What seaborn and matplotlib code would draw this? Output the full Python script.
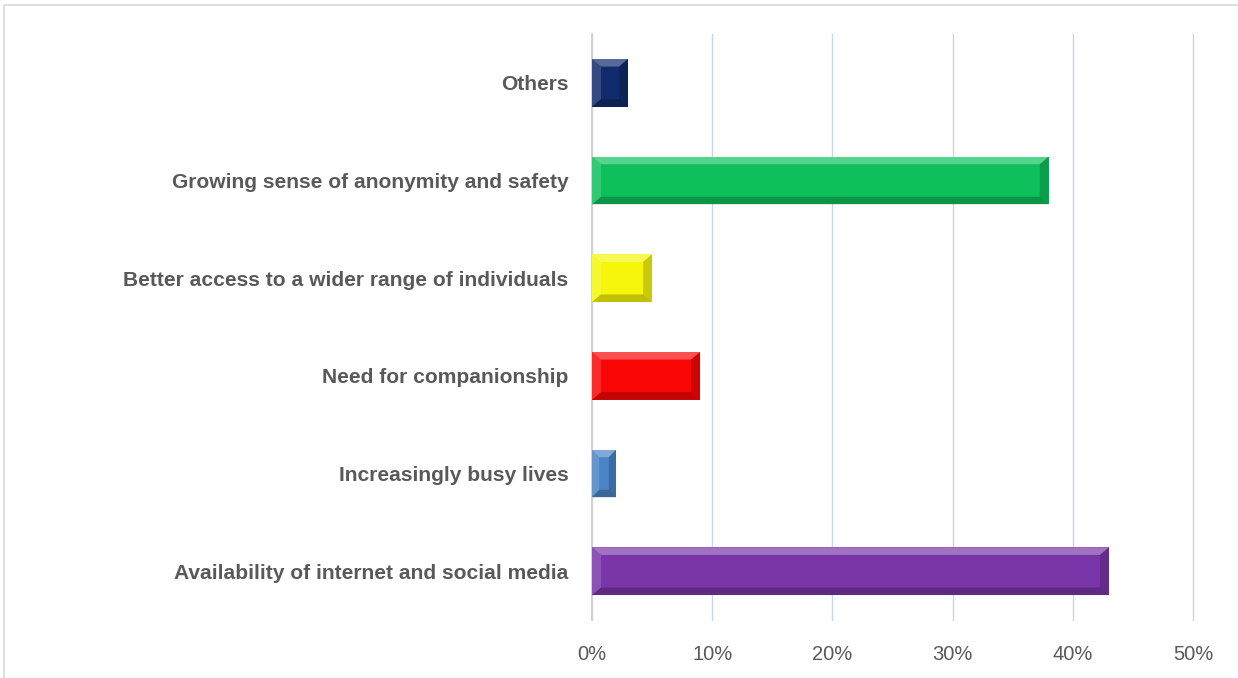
import matplotlib
matplotlib.use("Agg")
import matplotlib.pyplot as plt
import seaborn as sns
import pandas as pd
from matplotlib.patches import Polygon, Rectangle
from matplotlib.ticker import FuncFormatter

categories = [
    "Others",
    "Growing sense of anonymity and safety",
    "Better access to a wider range of individuals",
    "Need for companionship",
    "Increasingly busy lives",
    "Availability of internet and social media",
]
values = [3, 38, 5, 9, 2, 43]
colors = ["#112b6c", "#0ec05c", "#f6f60c", "#fb0606", "#4a84c6", "#7a36a8"]
x_ticks = [0, 10, 20, 30, 40, 50]

sns.set_theme(style="white")
plt.rcParams["font.family"] = ["Liberation Sans", "DejaVu Sans"]

df = pd.DataFrame({"reason": categories, "value": values})

fig = plt.figure(figsize=(12.38, 6.78), dpi=100)
ax = fig.add_axes([0.4782, 0.0855, 0.4855, 0.8644])

sns.barplot(data=df, y="reason", x="value", hue="reason", palette=colors,
            legend=False, width=0.49, ax=ax, saturation=1, edgecolor="none")

# bevel effect derived from bar geometry
for p in ax.patches:
    x0, y0 = p.get_x(), p.get_y()
    w, h = p.get_width(), p.get_height()
    bx = min(0.75, w * 0.3)
    by = h * 0.16
    top = Polygon([(x0, y0), (x0 + w, y0), (x0 + w - bx, y0 + by), (x0 + bx, y0 + by)],
                  closed=True, facecolor="white", alpha=0.30, edgecolor="none", zorder=3)
    left = Polygon([(x0, y0), (x0 + bx, y0 + by), (x0 + bx, y0 + h - by), (x0, y0 + h)],
                   closed=True, facecolor="white", alpha=0.15, edgecolor="none", zorder=3)
    bottom = Polygon([(x0, y0 + h), (x0 + bx, y0 + h - by), (x0 + w - bx, y0 + h - by), (x0 + w, y0 + h)],
                     closed=True, facecolor="black", alpha=0.22, edgecolor="none", zorder=3)
    right = Polygon([(x0 + w, y0), (x0 + w, y0 + h), (x0 + w - bx, y0 + h - by), (x0 + w - bx, y0 + by)],
                    closed=True, facecolor="black", alpha=0.18, edgecolor="none", zorder=3)
    for poly in (top, left, bottom, right):
        ax.add_patch(poly)
    p.set_zorder(2)

ax.set_xlim(0, 50)
ax.set_ylim(5.5, -0.5)
ax.set_xticks(x_ticks)
ax.xaxis.set_major_formatter(FuncFormatter(lambda v, pos: f"{int(v)}%"))
ax.grid(axis="x", color="#c8d6ea", linewidth=1.0, zorder=0)
for gl in ax.get_xgridlines():
    gl.set_clip_on(False)
ax.set_axisbelow(True)
for s in ["top", "right", "bottom"]:
    ax.spines[s].set_visible(False)
ax.spines["left"].set_color("#d4d4d4")
ax.spines["left"].set_linewidth(1.5)
ax.spines["left"].set_zorder(1)
ax.set_xlabel("")
ax.set_ylabel("")
ax.tick_params(axis="x", length=0, pad=18, labelsize=14.5, labelcolor="#595959")
ax.tick_params(axis="y", length=0, pad=17, labelsize=15.1, labelcolor="#595959")
for lbl in ax.get_yticklabels():
    lbl.set_fontweight("bold")

# outer chart border
fig.patches.append(Rectangle((4 / 1238, -0.05), 1.1, 1 - 5 / 678 + 0.05, transform=fig.transFigure,
                             fill=False, edgecolor="#d9d9d9", linewidth=1.2))

fig.savefig("out.png", dpi=100, facecolor="white")
